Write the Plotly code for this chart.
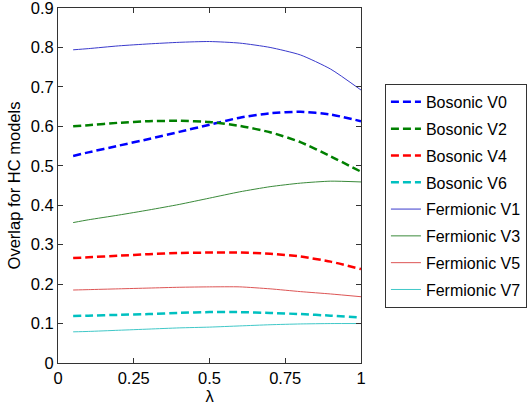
import plotly.graph_objects as go

lam = [0.05, 0.1, 0.2, 0.3, 0.4, 0.5, 0.6, 0.7, 0.8, 0.9, 1.0]

bos_v0 = [0.525, 0.534, 0.551, 0.568, 0.586, 0.604, 0.622, 0.633, 0.637, 0.630, 0.613]
bos_v2 = [0.600, 0.603, 0.609, 0.613, 0.614, 0.611, 0.601, 0.585, 0.560, 0.524, 0.485]
bos_v4 = [0.266, 0.268, 0.272, 0.276, 0.279, 0.280, 0.280, 0.277, 0.270, 0.257, 0.238]
bos_v6 = [0.119, 0.120, 0.122, 0.124, 0.127, 0.129, 0.129, 0.127, 0.124, 0.120, 0.115]
fer_v1 = [0.794, 0.797, 0.804, 0.809, 0.813, 0.815, 0.811, 0.800, 0.781, 0.745, 0.692]
fer_v3 = [0.356, 0.363, 0.375, 0.388, 0.402, 0.418, 0.434, 0.447, 0.456, 0.461, 0.459]
fer_v5 = [0.185, 0.186, 0.188, 0.190, 0.192, 0.193, 0.193, 0.188, 0.181, 0.175, 0.168]
fer_v7 = [0.079, 0.080, 0.083, 0.086, 0.089, 0.091, 0.094, 0.097, 0.099, 0.100, 0.100]

x_ticks = [0, 0.25, 0.5, 0.75, 1]
x_tick_labels = ["0", "0.25", "0.5", "0.75", "1"]
y_ticks = [0, 0.1, 0.2, 0.3, 0.4, 0.5, 0.6, 0.7, 0.8, 0.9]
y_tick_labels = ["0", "0.1", "0.2", "0.3", "0.4", "0.5", "0.6", "0.7", "0.8", "0.9"]

series = [
    ("Bosonic V0", bos_v0, "#0000ff", 2.5, "8px,4px"),
    ("Bosonic V2", bos_v2, "#008000", 2.5, "8px,4px"),
    ("Bosonic V4", bos_v4, "#ff0000", 2.5, "8px,4px"),
    ("Bosonic V6", bos_v6, "#00c0c0", 2.5, "8px,4px"),
    ("Fermionic V1", fer_v1, "#3a3acc", 1, "solid"),
    ("Fermionic V3", fer_v3, "#3a8a3a", 1, "solid"),
    ("Fermionic V5", fer_v5, "#dd5555", 1, "solid"),
    ("Fermionic V7", fer_v7, "#40c8c8", 1, "solid"),
]

fig = go.Figure()
for i, (name, vals, color, w, dash) in enumerate(series):
    fig.add_trace(go.Scatter(
        x=lam, y=vals, mode="lines", name=name, legendgroup=f"g{i}",
        line=dict(color=color, width=w, dash=dash, shape="spline", smoothing=0.6),
    ))

font = "Liberation Sans, Arial, sans-serif"
axis_common = dict(
    showline=True, linecolor="#333333", linewidth=1, mirror="ticks",
    ticks="inside", ticklen=5, tickcolor="#333333", showgrid=False, zeroline=False,
    tickfont=dict(family=font, size=16.5, color="black"), automargin=False,
    ticklabeloverflow="allow",
)

fig.update_layout(
    width=532, height=408,
    margin=dict(l=58, r=171, t=8, b=45, autoexpand=False),
    plot_bgcolor="white", paper_bgcolor="white",
    font=dict(family=font, size=16, color="black"),
    xaxis=dict(range=[0, 1], tickvals=x_ticks, ticktext=x_tick_labels,
               title=dict(text="λ", standoff=2, font=dict(size=16.5)), **axis_common),
    yaxis=dict(range=[0, 0.9], tickvals=y_ticks, ticktext=y_tick_labels,
               title=dict(text="Overlap for HC models", standoff=5, font=dict(size=16.5)), **axis_common),
    legend=dict(
        x=1.079, y=0.786, xanchor="left", yanchor="top",
        bordercolor="#333333", borderwidth=1, bgcolor="white",
        font=dict(family=font, size=16, color="black"),
        tracegroupgap=3, traceorder="grouped",
    ),
    showlegend=True,
)

fig.write_html(
    "out.html",
    config={"displayModeBar": False},
    post_script="document.body.style.margin='0';document.body.style.overflow='hidden';",
)
